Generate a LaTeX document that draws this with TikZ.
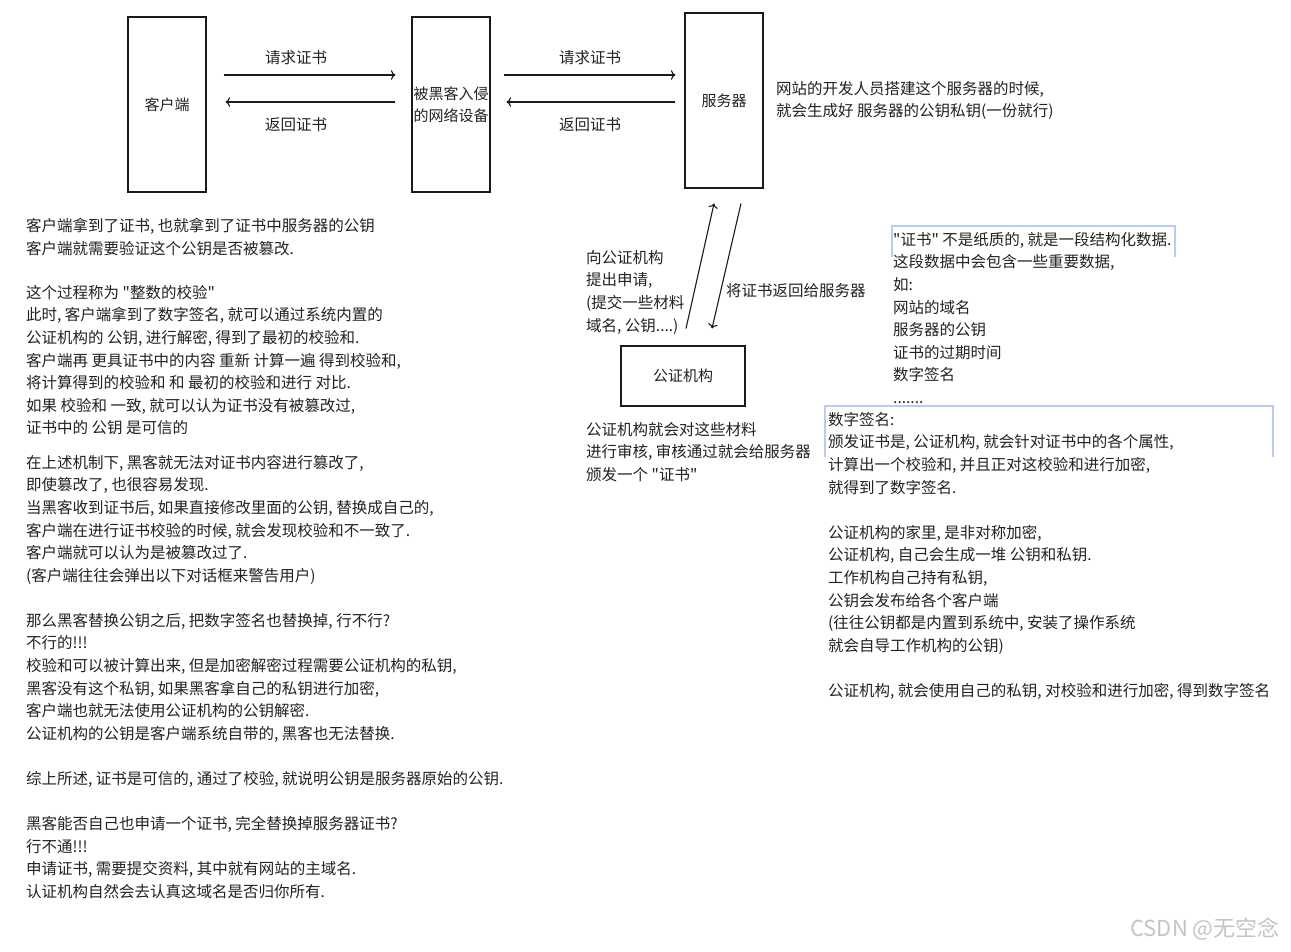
\documentclass[tikz,border=0pt]{standalone}
\usepackage{fontspec}
\usepackage{xcolor}
\usepackage{tikz}
\usetikzlibrary{calc,arrows.meta,positioning}
\newfontfamily\cjk{Noto Sans CJK SC}
\definecolor{inkx}{HTML}{222222}
\definecolor{linex}{HTML}{1A1A1A}
\definecolor{bluex}{HTML}{B9CCF4}
\definecolor{markx}{HTML}{C4C4C4}
\tikzset{
  ar/.style={-{To[length=1.6mm]},line width=1.1pt,linex},
  box/.style={draw=linex,line width=1.1pt,align=center,inner sep=1pt,font=\cjk\fontsize{15}{22}\selectfont,text=inkx},
  txt/.style={anchor=north west,align=left,inner sep=0pt,font=\cjk\fontsize{15.5}{22.6}\selectfont,text=inkx},
  lbl/.style={inner sep=0pt,font=\cjk\fontsize{15.5}{18}\selectfont,text=inkx},
  sel/.style={bluex,line width=1.6pt}
}

\begin{document}
\begin{tikzpicture}[x=1pt,y=-1pt]
\fill[white] (0,0) rectangle (1291,951);
\useasboundingbox (0,0) rectangle (1291,951);
% boxes
\node[box,minimum width=78,minimum height=175] (cli) at (167,104.5) {客户端};
\node[box,minimum width=78,minimum height=175] (hack) at (451,104.5) {被黑客入侵\\的网络设备};
\node[box,minimum width=78,minimum height=175] (srv) at (724,100.5) {服务器};
\node[box,minimum width=124,minimum height=60] (ca) at (683,376) {公证机构};
% arrows
\draw[ar] ($(cli.east)+(17,-29.5)$) -- ($(hack.west)+(-16,-29.5)$);
\draw[ar] ($(hack.west)+(-16,-2.5)$) -- ($(cli.east)+(19,-2.5)$);
\draw[ar] ($(hack.east)+(13,-29.5)$) -- ($(srv.west)+(-9,-25.5)$);
\draw[ar] ($(srv.west)+(-9,1.5)$) -- ($(hack.east)+(16,-2.5)$);
\draw[ar] ($(ca.north)+(3,-17)$) -- ($(srv.south)+(-10,15)$);
\draw[ar] ($(srv.south)+(17,15)$) -- ($(ca.north)+(29,-17)$);
\node[lbl] (req1) at (296,58) {请求证书};
\node[lbl] (ret1) at (296,125) {返回证书};
\node[lbl] (req2) at (590,58) {请求证书};
\node[lbl] (ret2) at (590,125) {返回证书};
\node[lbl,anchor=west] (back) at (726,291) {将证书返回给服务器};
\node[txt] (apply) at (586,250) {向公证机构\\提出申请,\\(提交一些材料\\域名, 公钥....)};
\node[txt] (audit) at (586,422) {公证机构就会对这些材料\\进行审核, 审核通过就会给服务器\\颁发一个 "证书"};
% notes on the right
\node[txt] (srvnote) at (776,81) {网站的开发人员搭建这个服务器的时候,\\就会生成好 服务器的公钥私钥(一份就行)};
\node[txt] (cert) at (893,232) {"证书" 不是纸质的, 就是一段结构化数据.\\这段数据中会包含一些重要数据,\\如:\\网站的域名\\服务器的公钥\\证书的过期时间\\数字签名\\.......};
\node[txt] (sig) at (828,412) {数字签名:\\颁发证书是, 公证机构, 就会针对证书中的各个属性,\\计算出一个校验和, 并且正对这校验和进行加密,\\就得到了数字签名.};
\node[txt] (home) at (828,525) {公证机构的家里, 是非对称加密,\\公证机构, 自己会生成一堆 公钥和私钥.\\工作机构自己持有私钥,\\公钥会发布给各个客户端\\(往往公钥都是内置到系统中, 安装了操作系统\\就会自导工作机构的公钥)};
\node[txt] (enc) at (828,683) {公证机构, 就会使用自己的私钥, 对校验和进行加密, 得到数字签名};
\draw[sel] (892,257) -- (892,226) -- (1175,226) -- (1175,257);
\draw[sel] (825,457) -- (825,406) -- (1273,406) -- (1273,457);
% notes on the left
\node[txt] (ta) at (26,218) {客户端拿到了证书, 也就拿到了证书中服务器的公钥\\客户端就需要验证这个公钥是否被篡改.};
\node[txt] (tb) at (26,285) {这个过程称为 "整数的校验"\\此时, 客户端拿到了数字签名, 就可以通过系统内置的\\公证机构的 公钥, 进行解密, 得到了最初的校验和.\\客户端再 更具证书中的内容 重新 计算一遍 得到校验和,\\将计算得到的校验和 和 最初的校验和进行 对比.\\如果 校验和 一致, 就可以认为证书没有被篡改过,\\证书中的 公钥 是可信的};
\node[txt] (tc) at (26,455) {在上述机制下, 黑客就无法对证书内容进行篡改了,\\即使篡改了, 也很容易发现.\\当黑客收到证书后, 如果直接修改里面的公钥, 替换成自己的,\\客户端在进行证书校验的时候, 就会发现校验和不一致了.\\客户端就可以认为是被篡改过了.\\(客户端往往会弹出以下对话框来警告用户)};
\node[txt] (td) at (26,613) {那么黑客替换公钥之后, 把数字签名也替换掉, 行不行?\\不行的!!!\\校验和可以被计算出来, 但是加密解密过程需要公证机构的私钥,\\黑客没有这个私钥, 如果黑客拿自己的私钥进行加密,\\客户端也就无法使用公证机构的公钥解密.\\公证机构的公钥是客户端系统自带的, 黑客也无法替换.};
\node[txt] (te) at (26,771) {综上所述, 证书是可信的, 通过了校验, 就说明公钥是服务器原始的公钥.};
\node[txt] (tf) at (26,816) {黑客能否自己也申请一个证书, 完全替换掉服务器证书?\\行不通!!!\\申请证书, 需要提交资料, 其中就有网站的主域名.\\认证机构自然会去认真这域名是否归你所有.};
\node[font=\cjk\fontsize{22}{22}\selectfont,text=markx,inner sep=0pt] (wm) at (1205,929) {CSDN @无空念};
\end{tikzpicture}
\end{document}
